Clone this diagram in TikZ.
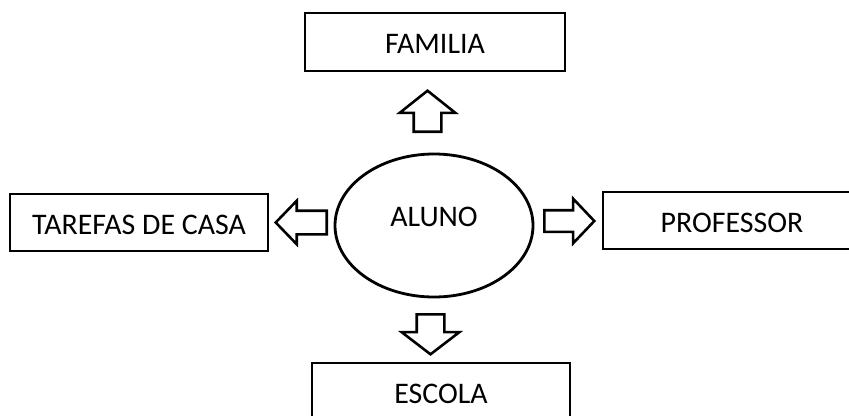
\documentclass[tikz,border=0pt]{standalone}
\usepackage{fontspec}
\setmainfont{Carlito}
\usetikzlibrary{shapes.geometric, shapes.arrows, positioning}
\newlength\px
\setlength\px{0.03cm}
\tikzset{
	box/.style      ={rectangle, draw=black, line width=2.4pt, minimum width=258*\px, minimum height=57*\px, align=center, inner sep=0pt, text height=23*\px, text depth=0pt},
	hub/.style      ={ellipse, draw=black, line width=2.4pt, minimum width=198*\px, minimum height=143*\px, inner sep=0pt},
	blockarrow/.style={single arrow, draw=black, line width=2.2pt, fill=white, inner sep=0pt, anchor=tail},
}
\begin{document}
\begin{tikzpicture}[x=\px, y=-\px, font=\fontsize{25.5}{30}\selectfont]
	\clip (0,0) rectangle (849,415);
	% central node
	\node[hub, text depth=18*\px] (aluno) at (434,225.5) {ALUNO};
	% surrounding boxes
	\node[box, minimum width=260*\px, minimum height=58*\px] (familia) at (435,42) {FAMILIA};
	\node[box] (tarefas) at (139,222.5) {TAREFAS DE CASA};
	\node[box] (professor) at (732,220.5) {PROFESSOR};
	\node[box] (escola) at (441,391.5) {ESCOLA};
	% block arrows
	\node[blockarrow, shape border rotate=90, minimum height=41*\px, inner xsep=12.5*\px,
		single arrow head extend=14*\px, single arrow tip angle=103] (upA) at (427.5,133) {};
	\node[blockarrow, shape border rotate=180, minimum height=51*\px, inner ysep=10.5*\px,
		single arrow head extend=10*\px, single arrow tip angle=92] (leftA) at (328,222.5) {};
	\node[blockarrow, minimum height=50*\px, inner ysep=9.5*\px,
		single arrow head extend=11.5*\px, single arrow tip angle=93] (rightA) at (543,221) {};
	\node[blockarrow, shape border rotate=270, minimum height=40*\px, inner xsep=12.5*\px,
		single arrow head extend=15*\px, single arrow tip angle=105] (downA) at (430.5,313) {};
\end{tikzpicture}
\end{document}
